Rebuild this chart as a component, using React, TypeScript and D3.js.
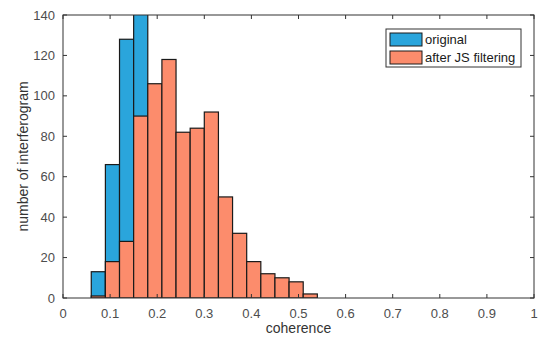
import { useEffect, useRef } from "react";
import * as d3 from "d3";

// bin edges start at 0.06, width 0.03
const binStart = 0.06;
const binWidth = 0.03;
const originalCounts = [13, 66, 128, 150];
const filteredCounts = [1, 18, 28, 90, 106, 118, 82, 84, 92, 50, 32, 18, 12, 10, 8, 2];
const xTicks = [0, 0.1, 0.2, 0.3, 0.4, 0.5, 0.6, 0.7, 0.8, 0.9, 1];
const yTicks = [0, 20, 40, 60, 80, 100, 120, 140];
const legendLabels = ["original", "after JS filtering"];

const colors = ["#2aa5dc", "#fc8c6c"];

export default function App() {
  const ref = useRef<SVGSVGElement>(null);

  useEffect(() => {
    const svg = d3.select(ref.current);
    svg.selectAll("*").remove();

    const margin = { left: 63, right: 16, top: 15, bottom: 50 };
    const width = 550;
    const height = 348;

    const x = d3.scaleLinear([0, 1], [margin.left, width - margin.right]);
    const y = d3.scaleLinear([0, 140], [height - margin.bottom, margin.top]);

    svg.append("rect").attr("width", width).attr("height", height).attr("fill", "#fff");

    svg
      .append("defs")
      .append("clipPath")
      .attr("id", "plotclip")
      .append("rect")
      .attr("x", x(0))
      .attr("y", y(140))
      .attr("width", x(1) - x(0))
      .attr("height", y(0) - y(140));

    const bars = svg.append("g").attr("clip-path", "url(#plotclip)");

    const drawBars = (counts: number[], color: string) => {
      bars
        .append("g")
        .selectAll("rect")
        .data(counts)
        .enter()
        .append("rect")
        .attr("x", (d, i) => x(binStart + i * binWidth))
        .attr("width", (d, i) => x(binStart + (i + 1) * binWidth) - x(binStart + i * binWidth))
        .attr("y", (d) => y(d))
        .attr("height", (d) => y(0) - y(d))
        .attr("fill", color)
        .attr("stroke", "#1a1a1a")
        .attr("stroke-width", 1.2);
    };
    drawBars(originalCounts, colors[0]);
    drawBars(filteredCounts, colors[1]);

    // box + inward ticks (matlab style)
    const axisColor = "#333";
    const tickLen = 4;
    const ax = svg.append("g").attr("stroke", axisColor).attr("stroke-width", 1);
    ax.append("rect")
      .attr("x", x(0))
      .attr("y", y(140))
      .attr("width", x(1) - x(0))
      .attr("height", y(0) - y(140))
      .attr("fill", "none");

    xTicks.forEach((t) => {
      ax.append("line").attr("x1", x(t)).attr("x2", x(t)).attr("y1", y(0)).attr("y2", y(0) - tickLen);
      ax.append("line").attr("x1", x(t)).attr("x2", x(t)).attr("y1", y(140)).attr("y2", y(140) + tickLen);
    });
    yTicks.forEach((t) => {
      ax.append("line").attr("x1", x(0)).attr("x2", x(0) + tickLen).attr("y1", y(t)).attr("y2", y(t));
      ax.append("line").attr("x1", x(1)).attr("x2", x(1) - tickLen).attr("y1", y(t)).attr("y2", y(t));
    });

    const font = "'Liberation Sans', Arial, sans-serif";
    const labelColor = "#4d4d4d";

    svg
      .append("g")
      .selectAll("text")
      .data(xTicks)
      .enter()
      .append("text")
      .attr("x", (d) => x(d))
      .attr("y", y(0) + 20)
      .attr("text-anchor", "middle")
      .attr("font-family", font)
      .attr("font-size", 13)
      .attr("fill", labelColor)
      .text((d) => String(d));

    svg
      .append("g")
      .selectAll("text")
      .data(yTicks)
      .enter()
      .append("text")
      .attr("x", x(0) - 8)
      .attr("y", (d) => y(d) + 4.5)
      .attr("text-anchor", "end")
      .attr("font-family", font)
      .attr("font-size", 13)
      .attr("fill", labelColor)
      .text((d) => String(d));

    svg
      .append("text")
      .attr("x", (x(0) + x(1)) / 2)
      .attr("y", y(0) + 35)
      .attr("text-anchor", "middle")
      .attr("font-family", font)
      .attr("font-size", 14)
      .attr("fill", "#333")
      .text("coherence");

    svg
      .append("text")
      .attr("transform", `translate(28,${(y(0) + y(140)) / 2}) rotate(-90)`)
      .attr("text-anchor", "middle")
      .attr("font-family", font)
      .attr("font-size", 14)
      .attr("fill", "#333")
      .text("number of interferogram");

    // legend
    const legend = svg.append("g").attr("transform", "translate(386,29)");
    legend
      .append("rect")
      .attr("width", 135)
      .attr("height", 38)
      .attr("fill", "#fff")
      .attr("stroke", "#333")
      .attr("stroke-width", 1);
    legendLabels.forEach((label, i) => {
      legend
        .append("rect")
        .attr("x", 4)
        .attr("y", 4 + i * 18)
        .attr("width", 32)
        .attr("height", 13)
        .attr("fill", colors[i])
        .attr("stroke", "#1a1a1a")
        .attr("stroke-width", 1);
      legend
        .append("text")
        .attr("x", 39)
        .attr("y", 15 + i * 18)
        .attr("font-family", font)
        .attr("font-size", 13)
        .attr("fill", "#1a1a1a")
        .text(label);
    });
  }, []);

  return (
    <svg
      ref={ref}
      width={550}
      height={348}
      style={{ position: "absolute", left: 0, top: 0 }}
    />
  );
}
